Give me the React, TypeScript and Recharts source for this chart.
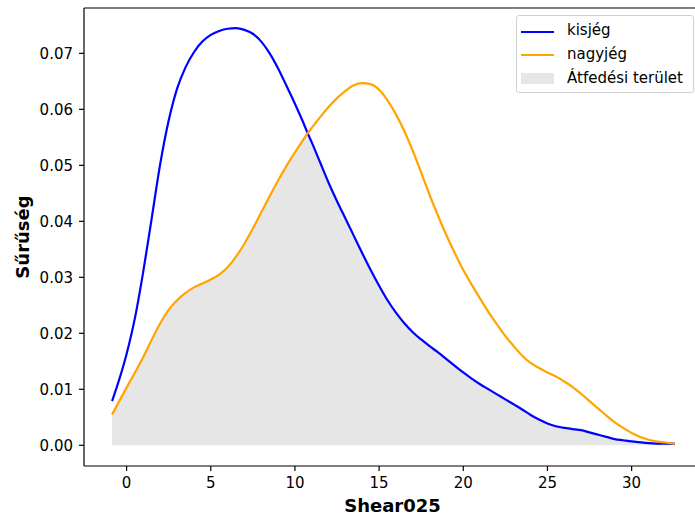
import React from "react";
import {
  ComposedChart,
  Line,
  Area,
  XAxis,
  YAxis,
  ReferenceLine,
} from "recharts";

const shear = [
  -0.86, 0, 0.5, 1, 1.5, 2, 2.5, 3, 3.5, 4,
  4.5, 5, 5.5, 6, 6.5, 7, 7.5, 8, 8.5, 9,
  9.5, 10, 10.5, 10.75, 11, 11.5, 12, 12.5, 13, 13.5,
  14, 14.5, 15, 15.5, 16, 16.5, 17, 17.5, 18, 18.5,
  19, 19.5, 20, 20.5, 21, 21.5, 22, 22.5, 23, 23.5,
  24, 24.5, 25, 25.5, 26, 26.5, 27, 27.5, 28, 28.5,
  29, 29.5, 30, 31, 32, 32.57,
];

const kisjeg = [
  0.0079, 0.0163, 0.0228, 0.0312, 0.0407, 0.0503, 0.058, 0.0637, 0.0675, 0.0702,
  0.0721, 0.0733, 0.074, 0.0744, 0.0745, 0.0742, 0.0735, 0.0721, 0.07, 0.0673,
  0.0642, 0.061, 0.0576, 0.0558, 0.0541, 0.0505, 0.0469, 0.0436, 0.0405, 0.0374,
  0.0343, 0.0313, 0.0285, 0.0259, 0.0237, 0.0218, 0.0202, 0.0189, 0.0177, 0.0166,
  0.0154, 0.0142, 0.013, 0.0119, 0.0109, 0.01, 0.0091, 0.0082, 0.0073, 0.0064,
  0.0054, 0.0046, 0.0039, 0.0034, 0.0031, 0.0029, 0.0027, 0.0023, 0.0019, 0.0015,
  0.0011, 0.0009, 0.0007, 0.0004, 0.0003, 0.0003,
];

const nagyjeg = [
  0.0055, 0.0103, 0.013, 0.0158, 0.0189, 0.0218, 0.0242, 0.0259, 0.0272, 0.0282,
  0.0289, 0.0296, 0.0305, 0.0318, 0.0337, 0.036, 0.0387, 0.0416, 0.0445, 0.0473,
  0.0499, 0.0523, 0.0546, 0.0557, 0.0567, 0.0586, 0.0604, 0.062, 0.0633, 0.0643,
  0.0647, 0.0645, 0.0635, 0.0616, 0.0591, 0.0561, 0.0526, 0.0487, 0.0447, 0.041,
  0.0375, 0.0343, 0.0313, 0.0287, 0.0262, 0.0238, 0.0216, 0.0195, 0.0177, 0.016,
  0.0147, 0.0138, 0.013, 0.0123, 0.0114, 0.0104, 0.0092, 0.0079, 0.0066, 0.0053,
  0.0041, 0.0031, 0.0022, 0.001, 0.0005, 0.0003,
];

const xTicks = [0, 5, 10, 15, 20, 25, 30];
const yTicks = [0, 0.01, 0.02, 0.03, 0.04, 0.05, 0.06, 0.07];
const xDomain = [-2.53, 34.24];
const yDomain = [-0.0037, 0.0781];

const data = shear.map((x, i) => ({
  x,
  kisjeg: kisjeg[i],
  nagyjeg: nagyjeg[i],
  overlap: Math.min(kisjeg[i], nagyjeg[i]),
}));

const FONT = "'DejaVu Sans', sans-serif";

const YLabel = (props: any) => {
  const vb = props.viewBox || {};
  const cx = 22.5;
  const cy = vb.y + vb.height / 2;
  return (
    <text
      x={cx}
      y={cy}
      transform={`rotate(-90 ${cx} ${cy})`}
      textAnchor="middle"
      dominantBaseline="central"
      fontFamily={FONT}
      fontWeight="bold"
      fontSize={18}
      fill="#000"
    >
      Sűrűség
    </text>
  );
};

const XLabel = (props: any) => {
  const vb = props.viewBox || {};
  return (
    <text
      x={vb.x + vb.width / 2 - 1}
      y={vb.y + 39}
      textAnchor="middle"
      dominantBaseline="central"
      fontFamily={FONT}
      fontWeight="bold"
      fontSize={18}
      fill="#000"
    >
      Shear025
    </text>
  );
};

const legendRow: React.CSSProperties = {
  position: "absolute",
  left: 50,
  fontFamily: FONT,
  fontSize: 15,
  color: "#000",
  lineHeight: "18px",
  whiteSpace: "nowrap",
};

export default function App() {
  return (
    <div
      style={{
        position: "absolute",
        left: 0,
        top: 0,
        width: 695,
        height: 517,
        overflow: "hidden",
        background: "#fff",
      }}
    >
      <ComposedChart
        width={710}
        height={517}
        data={data}
        margin={{ top: 8, right: 7, left: 0, bottom: 0 }}
      >
        <XAxis
          dataKey="x"
          type="number"
          domain={xDomain}
          ticks={xTicks}
          allowDataOverflow
          height={51}
          tickSize={5}
          tickMargin={6}
          stroke="#000"
          strokeWidth={1.2}
          tick={{ fill: "#000", fontSize: 15, fontFamily: FONT }}
          label={<XLabel />}
        />
        <YAxis
          type="number"
          domain={yDomain}
          ticks={yTicks}
          allowDataOverflow
          width={84}
          tickSize={5}
          tickMargin={6}
          stroke="#000"
          strokeWidth={1.2}
          tickFormatter={(v: number) => v.toFixed(2)}
          tick={{ fill: "#000", fontSize: 15, fontFamily: FONT }}
          label={<YLabel />}
        />
        <ReferenceLine y={yDomain[1]} stroke="#000" strokeWidth={1.2} />
        <Area
          type="monotone"
          dataKey="overlap"
          stroke="none"
          fill="#808080"
          fillOpacity={0.2}
          baseValue={0}
          isAnimationActive={false}
          dot={false}
          activeDot={false}
        />
        <Line
          type="monotone"
          dataKey="kisjeg"
          stroke="#0000ff"
          strokeWidth={2.2}
          dot={false}
          activeDot={false}
          isAnimationActive={false}
        />
        <Line
          type="monotone"
          dataKey="nagyjeg"
          stroke="#ffa500"
          strokeWidth={2.2}
          dot={false}
          activeDot={false}
          isAnimationActive={false}
        />
      </ComposedChart>
      <div
        style={{
          position: "absolute",
          left: 516,
          top: 15,
          width: 178,
          height: 78,
          boxSizing: "border-box",
          border: "1px solid #d0d0d0",
          borderRadius: 3,
          background: "rgba(255,255,255,0.8)",
        }}
      >
        <div
          style={{
            position: "absolute",
            left: 4,
            top: 14.5,
            width: 33,
            height: 2.2,
            background: "#0000ff",
          }}
        />
        <div style={{ ...legendRow, top: 5 }}>kisjég</div>
        <div
          style={{
            position: "absolute",
            left: 4,
            top: 38,
            width: 33,
            height: 2.2,
            background: "#ffa500",
          }}
        />
        <div style={{ ...legendRow, top: 28.5 }}>nagyjég</div>
        <div
          style={{
            position: "absolute",
            left: 4,
            top: 57,
            width: 33,
            height: 11,
            background: "rgba(128,128,128,0.2)",
          }}
        />
        <div style={{ ...legendRow, top: 52.5 }}>Átfedési terület</div>
      </div>
    </div>
  );
}
